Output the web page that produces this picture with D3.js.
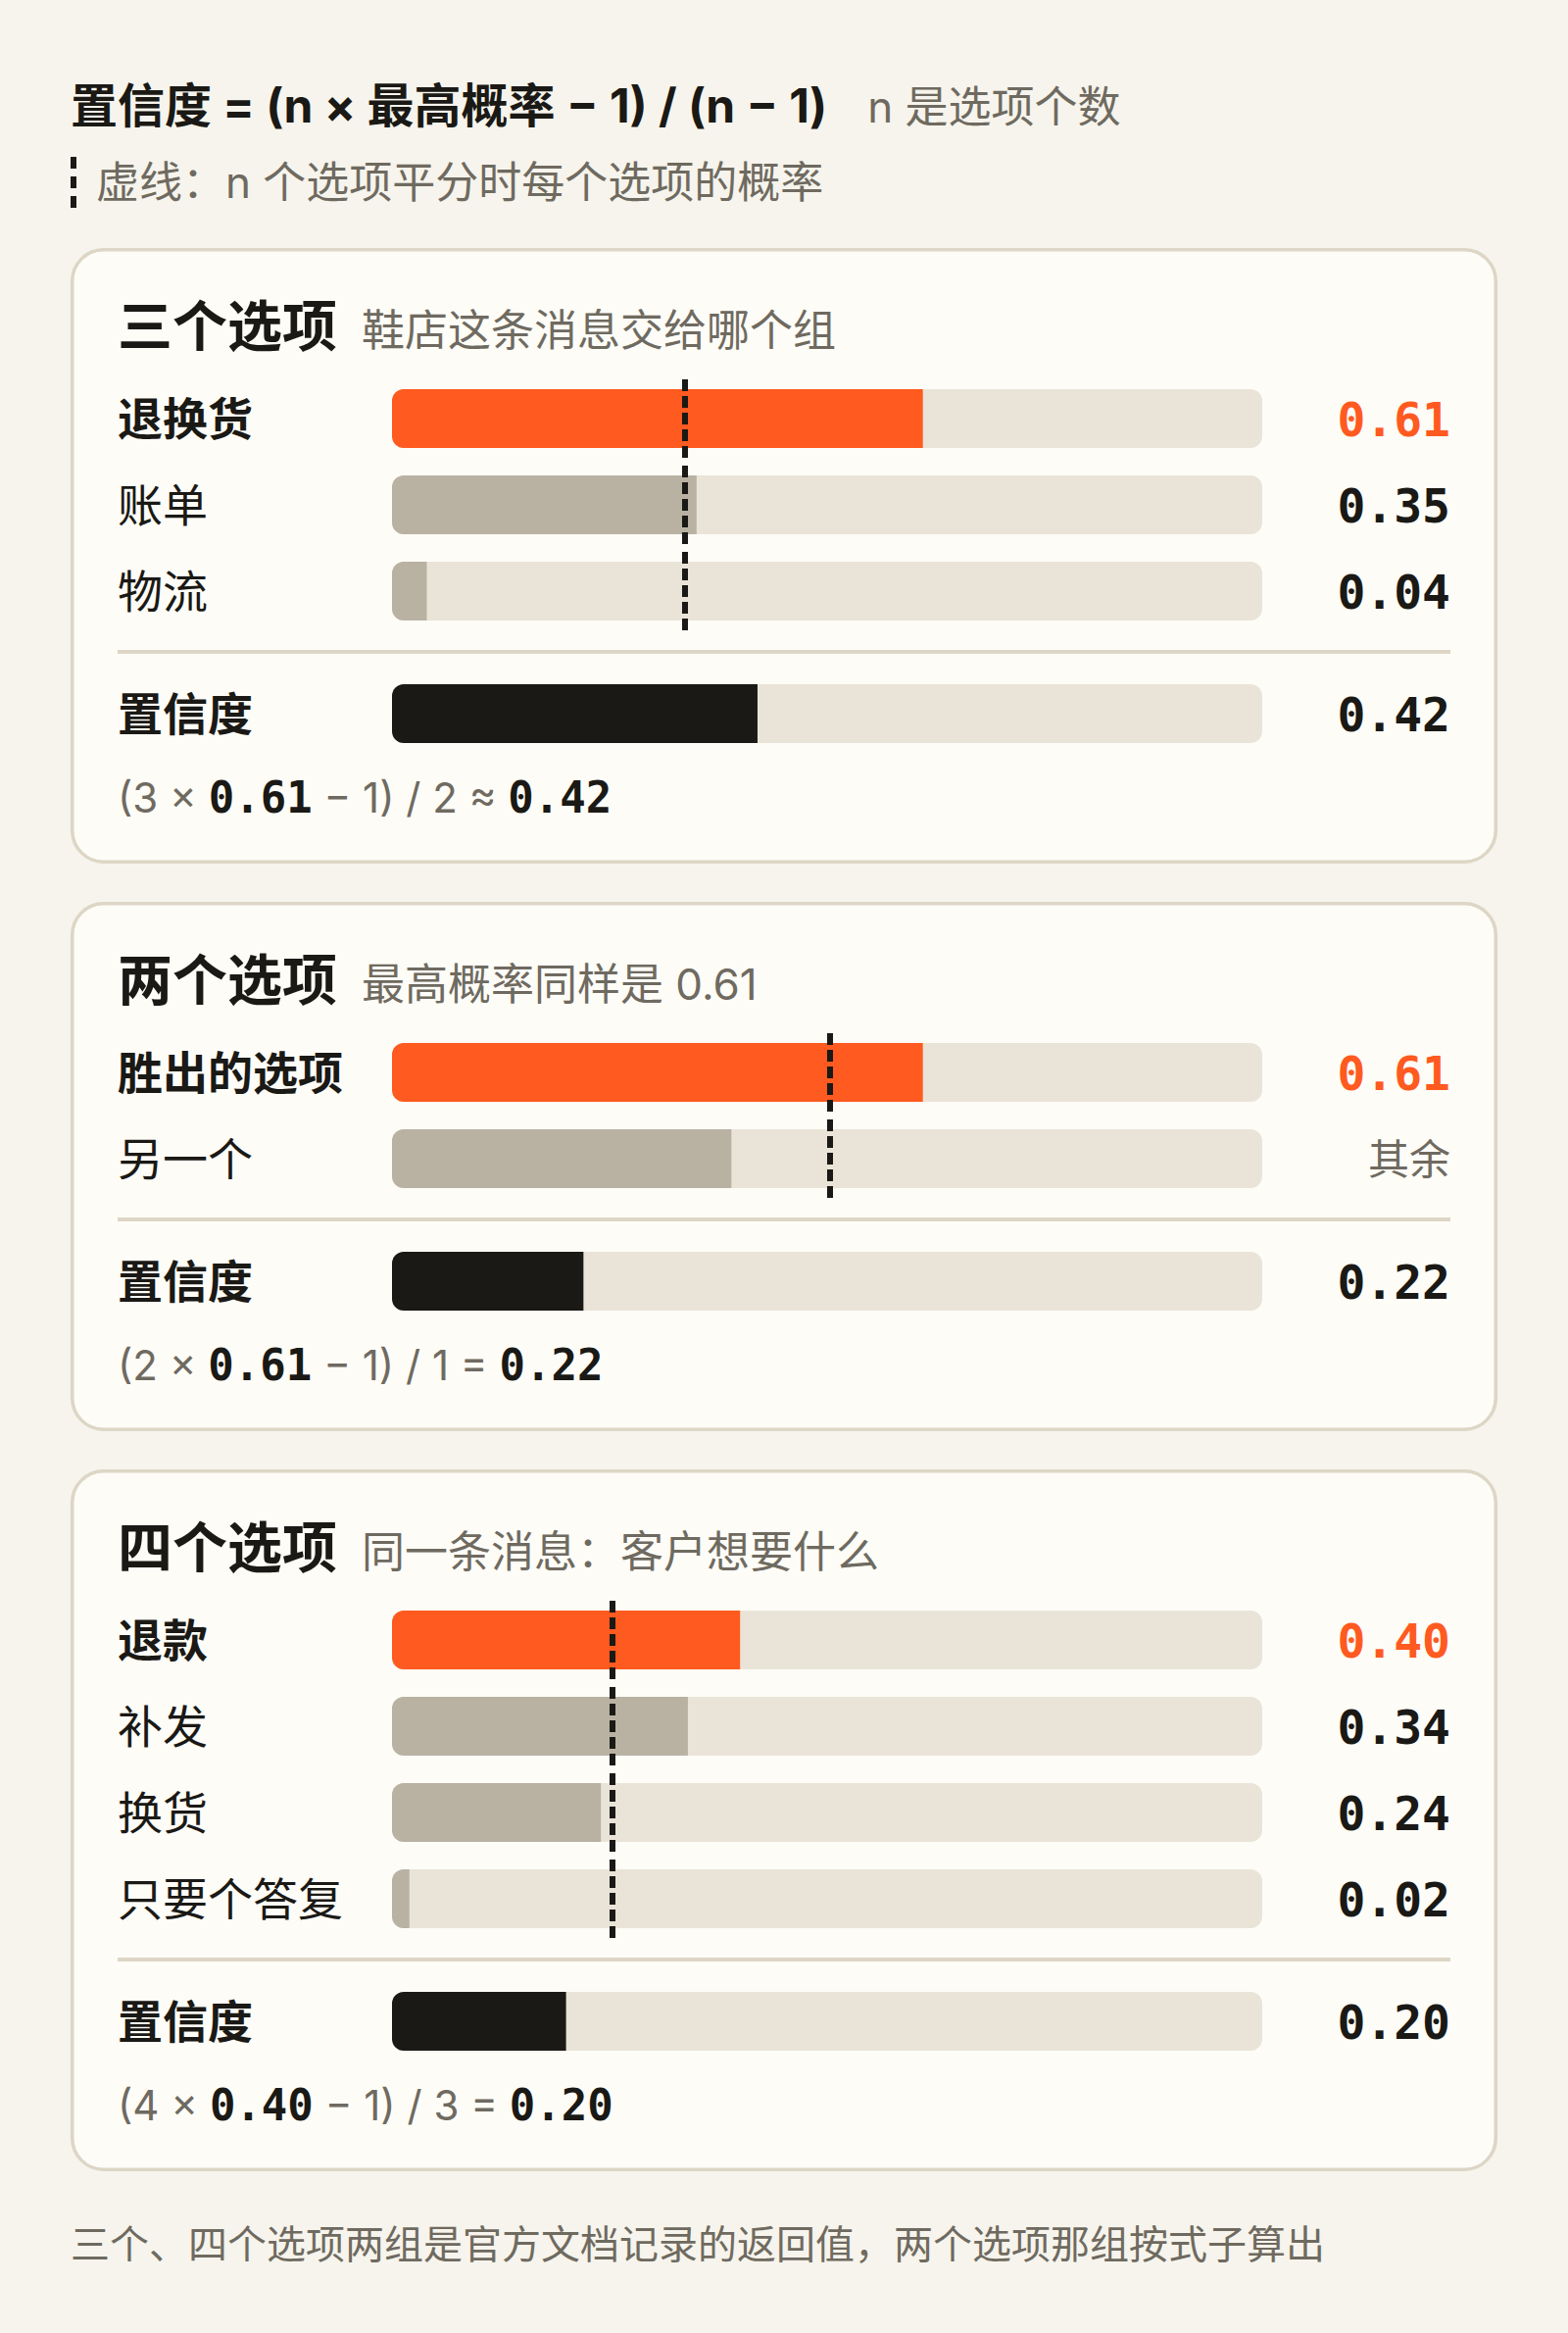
<!DOCTYPE html>
<html><head><meta charset="utf-8">
<script src="https://cdn.jsdelivr.net/npm/d3@7"></script>
<style>html,body{margin:0;padding:0;background:#f6f4ec;} svg{display:block}</style>
</head><body><svg id="chart"></svg>
<script>
// ---------- data ----------
const headerTitle = "置信度 = (n × 最高概率 − 1) / (n − 1)";
const headerNote = "n 是选项个数";
const legendText = "虚线：n 个选项平分时每个选项的概率";
const footnote = "三个、四个选项两组是官方文档记录的返回值，两个选项那组按式子算出";
const confLabel = "置信度";

const cardTitles = ["三个选项", "两个选项", "四个选项"];
const cardSubtitles = ["鞋店这条消息交给哪个组", "最高概率同样是 0.61", "同一条消息：客户想要什么"];
const optionCounts = [3, 2, 4];

const labels3 = ["退换货", "账单", "物流"];
const values3 = [0.61, 0.35, 0.04];
const valueText3 = ["0.61", "0.35", "0.04"];

const labels2 = ["胜出的选项", "另一个"];
const values2 = [0.61, 0.39];
const valueText2 = ["0.61", "其余"];

const labels4 = ["退款", "补发", "换货", "只要个答复"];
const values4 = [0.40, 0.34, 0.24, 0.02];
const valueText4 = ["0.40", "0.34", "0.24", "0.02"];

const confidences = [0.42, 0.22, 0.20];
const confText = ["0.42", "0.22", "0.20"];
const formulaOps = ["≈", "=", "="];

// ---------- styles ----------
const SANS = "Inter, 'Noto Sans CJK SC', 'Noto Sans', sans-serif";
const MONO = "'DejaVu Sans Mono', 'Liberation Mono', monospace";
const C = {
  bg: "#f6f4ec", card: "#fdfcf7", border: "#ddd6c6", track: "#eae4d8",
  gray: "#b9b2a3", orange: "#ff5a1f", ink: "#1a1915", muted: "#6f6a60"
};

const svg = d3.select("#chart").attr("width", 1600).attr("height", 2380)
  .attr("viewBox", "0 0 800 1190");
svg.append("rect").attr("width", 800).attr("height", 1190).attr("fill", C.bg);
const defs = svg.append("defs");

const x = d3.scaleLinear().domain([0, 1]).range([200, 644]);
const DY = "0.37em";

// ---------- header ----------
const ht = svg.append("text").attr("x", 36).attr("y", 53.5).attr("dy", DY)
  .attr("font-family", SANS).attr("font-size", 24).attr("font-weight", 700)
  .attr("fill", C.ink).text(headerTitle);
const htw = ht.node().getComputedTextLength();
svg.append("text").attr("x", 36 + htw + 20.5).attr("y", 53.5 + 0.37 * 24).attr("dy", "-0.37em")
  .attr("font-family", SANS).attr("font-size", 22).attr("fill", C.muted)
  .attr("dy", null).text(headerNote);

svg.append("line").attr("x1", 37.5).attr("x2", 37.5).attr("y1", 80).attr("y2", 106)
  .attr("stroke", C.ink).attr("stroke-width", 3).attr("stroke-dasharray", "6 4");
svg.append("text").attr("x", 49).attr("y", 93).attr("dy", DY)
  .attr("font-family", SANS).attr("font-size", 22).attr("fill", C.muted).text(legendText);

// ---------- cards ----------
const groups = [
  {labels: labels3, values: values3, vt: valueText3},
  {labels: labels2, values: values2, vt: valueText2},
  {labels: labels4, values: values4, vt: valueText4}
];

const ROW0 = 72, PITCH = 44, BH = 30, R = 6;
let cardTop = 126.5;
let clipId = 0;

function bar(g, y, v, color) {
  const id = "clip" + (clipId++);
  defs.append("clipPath").attr("id", id).append("rect")
    .attr("x", x(0)).attr("y", y).attr("width", x(1) - x(0)).attr("height", BH).attr("rx", R);
  g.append("rect").attr("x", x(0)).attr("y", y).attr("width", x(1) - x(0)).attr("height", BH)
    .attr("rx", R).attr("fill", C.track);
  g.append("rect").attr("x", x(0)).attr("y", y).attr("width", x(v) - x(0)).attr("height", BH)
    .attr("fill", color).attr("clip-path", `url(#${id})`);
}

groups.forEach((grp, ci) => {
  const n = optionCounts[ci];
  const rows = grp.labels.length;
  const lastBottom = ROW0 + (rows - 1) * PITCH + BH;
  const sepY = lastBottom + 16;
  const confY = sepY + 16.5;
  const formulaCY = confY + BH + 27.5;
  const cardH = confY + BH + 61.5;
  const bw = 1.75;

  const g = svg.append("g").attr("transform", `translate(0,${cardTop})`);
  g.append("rect").attr("x", 36 + bw / 2).attr("y", bw / 2)
    .attr("width", 728 - bw).attr("height", cardH - bw).attr("rx", 16)
    .attr("fill", C.card).attr("stroke", C.border).attr("stroke-width", bw);

  const titleBase = 39.5 + 0.37 * 28;
  const tt = g.append("text").attr("x", 60).attr("y", titleBase)
    .attr("font-family", SANS).attr("font-size", 28).attr("font-weight", 700)
    .attr("fill", C.ink).text(cardTitles[ci]);
  const tw = tt.node().getComputedTextLength();
  g.append("text").attr("x", 60 + tw + 12.5).attr("y", titleBase)
    .attr("font-family", SANS).attr("font-size", 22).attr("fill", C.muted).text(cardSubtitles[ci]);

  grp.labels.forEach((lab, i) => {
    const y = ROW0 + i * PITCH;
    const cy = y + BH / 2;
    g.append("text").attr("x", 60).attr("y", cy).attr("dy", DY)
      .attr("font-family", SANS).attr("font-size", 23).attr("font-weight", i === 0 ? 700 : 400)
      .attr("fill", C.ink).text(lab);
    bar(g, y, grp.values[i], i === 0 ? C.orange : C.gray);
    const vt = grp.vt[i];
    const isNum = /^[0-9.]+$/.test(vt);
    g.append("text").attr("x", 740).attr("y", cy).attr("dy", DY).attr("text-anchor", "end")
      .attr("font-family", isNum ? MONO : SANS).attr("font-size", isNum ? 24 : 21)
      .attr("font-weight", isNum ? 700 : 400)
      .attr("fill", i === 0 ? C.orange : (isNum ? C.ink : C.muted)).text(vt);
  });

  // dashed reference (1/n)
  const dx = x(1 / n) + 1.5;
  grp.labels.forEach((lab, i) => {
    const y = ROW0 + i * PITCH;
    g.append("line").attr("x1", dx).attr("x2", dx).attr("y1", y - 5).attr("y2", y + BH + 5)
      .attr("stroke", C.ink).attr("stroke-width", 3).attr("stroke-dasharray", "6 2.5");
  });

  g.append("line").attr("x1", 60).attr("x2", 740).attr("y1", sepY).attr("y2", sepY)
    .attr("stroke", C.border).attr("stroke-width", 2);

  g.append("text").attr("x", 60).attr("y", confY + BH / 2).attr("dy", DY)
    .attr("font-family", SANS).attr("font-size", 23).attr("font-weight", 700)
    .attr("fill", C.ink).text(confLabel);
  bar(g, confY, confidences[ci], C.ink);
  g.append("text").attr("x", 740).attr("y", confY + BH / 2).attr("dy", DY).attr("text-anchor", "end")
    .attr("font-family", MONO).attr("font-size", 24).attr("font-weight", 700)
    .attr("fill", C.ink).text(confText[ci]);

  const f = g.append("text").attr("x", 60).attr("y", formulaCY + 0.37 * 22)
    .attr("font-family", SANS).attr("font-size", 21).attr("fill", C.muted);
  f.append("tspan").text(`(${n} × `);
  f.append("tspan").attr("font-family", MONO).attr("font-size", 22).attr("font-weight", 700)
    .attr("fill", C.ink).text(grp.vt[0]);
  f.append("tspan").text(` − 1) / ${n - 1} ${formulaOps[ci]} `);
  f.append("tspan").attr("font-family", MONO).attr("font-size", 22).attr("font-weight", 700)
    .attr("fill", C.ink).text(confText[ci]);

  cardTop += cardH + 19.5;
});

svg.append("text").attr("x", 36).attr("y", 1144.5).attr("dy", DY)
  .attr("font-family", SANS).attr("font-size", 20).attr("fill", C.muted).text(footnote);
</script></body></html>
